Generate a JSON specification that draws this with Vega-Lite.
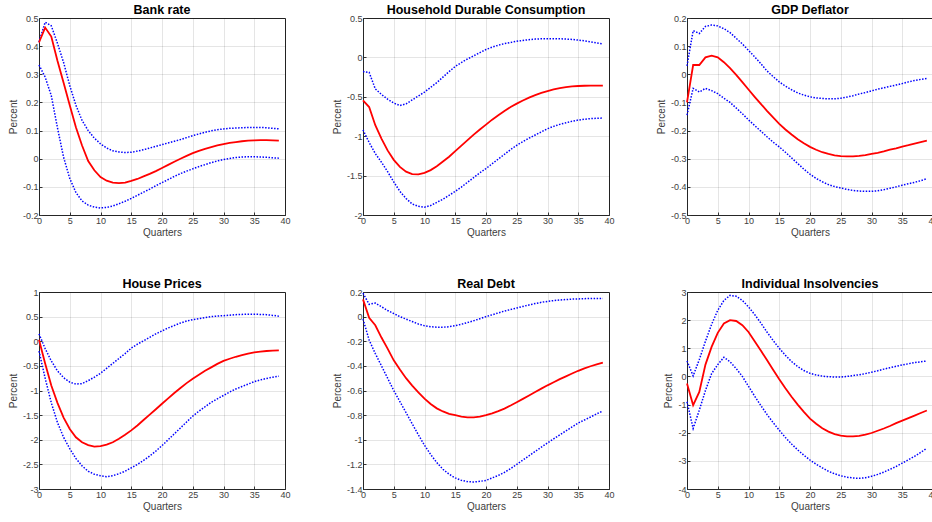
{
"$schema": "https://vega.github.io/schema/vega-lite/v6.json",
"padding": {"left": 7, "top": 3, "right": 0, "bottom": 0},
"columns": 3,
"spacing": {"row": 77, "column": 78},
"bounds": "flush",
"datasets": {
"bank": [
{"q":0,"lo":0.333,"med":0.413,"hi":0.415},{"q":1,"lo":0.29,"med":0.466,"hi":0.485},{"q":2,"lo":0.224,"med":0.434,"hi":0.472},{"q":3,"lo":0.11,"med":0.348,"hi":0.41},{"q":4,"lo":0.005,"med":0.27,"hi":0.342},{"q":5,"lo":-0.07,"med":0.19,"hi":0.26},{"q":6,"lo":-0.12,"med":0.112,"hi":0.19},{"q":7,"lo":-0.15,"med":0.047,"hi":0.136},{"q":8,"lo":-0.165,"med":-0.008,"hi":0.1},{"q":9,"lo":-0.172,"med":-0.041,"hi":0.073},
{"q":10,"lo":-0.175,"med":-0.065,"hi":0.053},{"q":11,"lo":-0.173,"med":-0.078,"hi":0.038},{"q":12,"lo":-0.168,"med":-0.085,"hi":0.028},{"q":13,"lo":-0.16,"med":-0.087,"hi":0.024},{"q":14,"lo":-0.151,"med":-0.085,"hi":0.022},{"q":15,"lo":-0.141,"med":-0.079,"hi":0.023},{"q":16,"lo":-0.13,"med":-0.072,"hi":0.027},{"q":17,"lo":-0.119,"med":-0.063,"hi":0.032},{"q":18,"lo":-0.108,"med":-0.054,"hi":0.038},{"q":19,"lo":-0.096,"med":-0.044,"hi":0.044},
{"q":20,"lo":-0.085,"med":-0.033,"hi":0.05},{"q":21,"lo":-0.074,"med":-0.022,"hi":0.056},{"q":22,"lo":-0.063,"med":-0.011,"hi":0.062},{"q":23,"lo":-0.053,"med":0.0,"hi":0.068},{"q":24,"lo":-0.044,"med":0.01,"hi":0.075},{"q":25,"lo":-0.036,"med":0.02,"hi":0.082},{"q":26,"lo":-0.028,"med":0.028,"hi":0.088},{"q":27,"lo":-0.021,"med":0.035,"hi":0.094},{"q":28,"lo":-0.014,"med":0.041,"hi":0.099},{"q":29,"lo":-0.008,"med":0.047,"hi":0.103},
{"q":30,"lo":-0.003,"med":0.052,"hi":0.106},{"q":31,"lo":0.001,"med":0.056,"hi":0.108},{"q":32,"lo":0.004,"med":0.059,"hi":0.109},{"q":33,"lo":0.006,"med":0.062,"hi":0.11},{"q":34,"lo":0.007,"med":0.064,"hi":0.111},{"q":35,"lo":0.007,"med":0.065,"hi":0.111},{"q":36,"lo":0.006,"med":0.066,"hi":0.111},{"q":37,"lo":0.005,"med":0.066,"hi":0.11},{"q":38,"lo":0.003,"med":0.065,"hi":0.108},{"q":39,"lo":0.002,"med":0.064,"hi":0.106}
],
"hdc": [
{"q":0,"lo":-0.92,"med":-0.545,"hi":-0.18},{"q":1,"lo":-1.08,"med":-0.63,"hi":-0.19},{"q":2,"lo":-1.22,"med":-0.86,"hi":-0.4},{"q":3,"lo":-1.33,"med":-1.03,"hi":-0.47},{"q":4,"lo":-1.45,"med":-1.18,"hi":-0.53},{"q":5,"lo":-1.58,"med":-1.3,"hi":-0.58},{"q":6,"lo":-1.7,"med":-1.39,"hi":-0.61},{"q":7,"lo":-1.79,"med":-1.45,"hi":-0.59},{"q":8,"lo":-1.86,"med":-1.48,"hi":-0.54},{"q":9,"lo":-1.89,"med":-1.485,"hi":-0.49},
{"q":10,"lo":-1.9,"med":-1.465,"hi":-0.44},{"q":11,"lo":-1.88,"med":-1.43,"hi":-0.38},{"q":12,"lo":-1.84,"med":-1.38,"hi":-0.32},{"q":13,"lo":-1.8,"med":-1.32,"hi":-0.25},{"q":14,"lo":-1.75,"med":-1.26,"hi":-0.18},{"q":15,"lo":-1.7,"med":-1.19,"hi":-0.115},{"q":16,"lo":-1.645,"med":-1.12,"hi":-0.065},{"q":17,"lo":-1.585,"med":-1.05,"hi":-0.02},{"q":18,"lo":-1.525,"med":-0.98,"hi":0.02},{"q":19,"lo":-1.465,"med":-0.915,"hi":0.06},
{"q":20,"lo":-1.41,"med":-0.853,"hi":0.1},{"q":21,"lo":-1.35,"med":-0.79,"hi":0.13},{"q":22,"lo":-1.29,"med":-0.735,"hi":0.155},{"q":23,"lo":-1.23,"med":-0.68,"hi":0.175},{"q":24,"lo":-1.17,"med":-0.63,"hi":0.19},{"q":25,"lo":-1.115,"med":-0.587,"hi":0.205},{"q":26,"lo":-1.07,"med":-0.547,"hi":0.215},{"q":27,"lo":-1.025,"med":-0.51,"hi":0.225},{"q":28,"lo":-0.985,"med":-0.478,"hi":0.232},{"q":29,"lo":-0.945,"med":-0.45,"hi":0.236},
{"q":30,"lo":-0.905,"med":-0.427,"hi":0.238},{"q":31,"lo":-0.875,"med":-0.407,"hi":0.238},{"q":32,"lo":-0.85,"med":-0.39,"hi":0.236},{"q":33,"lo":-0.83,"med":-0.378,"hi":0.233},{"q":34,"lo":-0.81,"med":-0.369,"hi":0.228},{"q":35,"lo":-0.795,"med":-0.363,"hi":0.22},{"q":36,"lo":-0.785,"med":-0.36,"hi":0.21},{"q":37,"lo":-0.777,"med":-0.358,"hi":0.198},{"q":38,"lo":-0.772,"med":-0.357,"hi":0.185},{"q":39,"lo":-0.77,"med":-0.357,"hi":0.171}
],
"gdp": [
{"q":0,"lo":-0.145,"med":-0.1,"hi":0.03},{"q":1,"lo":-0.05,"med":0.033,"hi":0.155},{"q":2,"lo":-0.063,"med":0.033,"hi":0.145},{"q":3,"lo":-0.05,"med":0.06,"hi":0.17},{"q":4,"lo":-0.058,"med":0.066,"hi":0.175},{"q":5,"lo":-0.069,"med":0.06,"hi":0.172},{"q":6,"lo":-0.085,"med":0.043,"hi":0.162},{"q":7,"lo":-0.1,"med":0.022,"hi":0.148},{"q":8,"lo":-0.12,"med":-0.002,"hi":0.128},{"q":9,"lo":-0.14,"med":-0.028,"hi":0.108},
{"q":10,"lo":-0.162,"med":-0.054,"hi":0.085},{"q":11,"lo":-0.182,"med":-0.08,"hi":0.062},{"q":12,"lo":-0.202,"med":-0.105,"hi":0.038},{"q":13,"lo":-0.222,"med":-0.13,"hi":0.012},{"q":14,"lo":-0.241,"med":-0.153,"hi":-0.008},{"q":15,"lo":-0.258,"med":-0.176,"hi":-0.027},{"q":16,"lo":-0.277,"med":-0.196,"hi":-0.042},{"q":17,"lo":-0.297,"med":-0.214,"hi":-0.055},{"q":18,"lo":-0.317,"med":-0.231,"hi":-0.066},{"q":19,"lo":-0.337,"med":-0.245,"hi":-0.074},
{"q":20,"lo":-0.355,"med":-0.258,"hi":-0.08},{"q":21,"lo":-0.37,"med":-0.268,"hi":-0.084},{"q":22,"lo":-0.382,"med":-0.277,"hi":-0.086},{"q":23,"lo":-0.392,"med":-0.283,"hi":-0.087},{"q":24,"lo":-0.399,"med":-0.288,"hi":-0.087},{"q":25,"lo":-0.404,"med":-0.291,"hi":-0.085},{"q":26,"lo":-0.409,"med":-0.292,"hi":-0.081},{"q":27,"lo":-0.413,"med":-0.292,"hi":-0.076},{"q":28,"lo":-0.415,"med":-0.29,"hi":-0.07},{"q":29,"lo":-0.416,"med":-0.287,"hi":-0.065},
{"q":30,"lo":-0.416,"med":-0.283,"hi":-0.059},{"q":31,"lo":-0.414,"med":-0.279,"hi":-0.053},{"q":32,"lo":-0.41,"med":-0.274,"hi":-0.048},{"q":33,"lo":-0.405,"med":-0.268,"hi":-0.043},{"q":34,"lo":-0.4,"med":-0.263,"hi":-0.038},{"q":35,"lo":-0.394,"med":-0.257,"hi":-0.033},{"q":36,"lo":-0.389,"med":-0.252,"hi":-0.027},{"q":37,"lo":-0.384,"med":-0.246,"hi":-0.022},{"q":38,"lo":-0.378,"med":-0.241,"hi":-0.018},{"q":39,"lo":-0.371,"med":-0.236,"hi":-0.015}
],
"house": [
{"q":0,"lo":-0.2,"med":0.03,"hi":0.15},{"q":1,"lo":-0.75,"med":-0.45,"hi":-0.15},{"q":2,"lo":-1.25,"med":-0.9,"hi":-0.4},{"q":3,"lo":-1.65,"med":-1.25,"hi":-0.6},{"q":4,"lo":-1.95,"med":-1.55,"hi":-0.74},{"q":5,"lo":-2.18,"med":-1.78,"hi":-0.83},{"q":6,"lo":-2.38,"med":-1.95,"hi":-0.87},{"q":7,"lo":-2.53,"med":-2.05,"hi":-0.86},{"q":8,"lo":-2.64,"med":-2.11,"hi":-0.8},{"q":9,"lo":-2.7,"med":-2.14,"hi":-0.73},
{"q":10,"lo":-2.73,"med":-2.13,"hi":-0.65},{"q":11,"lo":-2.75,"med":-2.1,"hi":-0.55},{"q":12,"lo":-2.73,"med":-2.05,"hi":-0.45},{"q":13,"lo":-2.69,"med":-1.98,"hi":-0.35},{"q":14,"lo":-2.64,"med":-1.9,"hi":-0.25},{"q":15,"lo":-2.57,"med":-1.81,"hi":-0.14},{"q":16,"lo":-2.5,"med":-1.71,"hi":-0.06},{"q":17,"lo":-2.42,"med":-1.6,"hi":0.01},{"q":18,"lo":-2.33,"med":-1.49,"hi":0.08},{"q":19,"lo":-2.23,"med":-1.38,"hi":0.15},
{"q":20,"lo":-2.12,"med":-1.27,"hi":0.21},{"q":21,"lo":-2.0,"med":-1.16,"hi":0.27},{"q":22,"lo":-1.88,"med":-1.05,"hi":0.32},{"q":23,"lo":-1.76,"med":-0.95,"hi":0.37},{"q":24,"lo":-1.64,"med":-0.85,"hi":0.41},{"q":25,"lo":-1.52,"med":-0.76,"hi":0.44},{"q":26,"lo":-1.42,"med":-0.68,"hi":0.46},{"q":27,"lo":-1.33,"med":-0.6,"hi":0.48},{"q":28,"lo":-1.24,"med":-0.53,"hi":0.5},{"q":29,"lo":-1.17,"med":-0.46,"hi":0.51},
{"q":30,"lo":-1.1,"med":-0.4,"hi":0.52},{"q":31,"lo":-1.03,"med":-0.355,"hi":0.53},{"q":32,"lo":-0.97,"med":-0.315,"hi":0.54},{"q":33,"lo":-0.92,"med":-0.28,"hi":0.545},{"q":34,"lo":-0.87,"med":-0.25,"hi":0.55},{"q":35,"lo":-0.82,"med":-0.225,"hi":0.55},{"q":36,"lo":-0.785,"med":-0.21,"hi":0.545},{"q":37,"lo":-0.755,"med":-0.198,"hi":0.54},{"q":38,"lo":-0.73,"med":-0.19,"hi":0.525},{"q":39,"lo":-0.71,"med":-0.185,"hi":0.51}
],
"debt": [
{"q":0,"lo":-0.02,"med":0.14,"hi":0.19},{"q":1,"lo":-0.19,"med":-0.01,"hi":0.1},{"q":2,"lo":-0.3,"med":-0.07,"hi":0.11},{"q":3,"lo":-0.4,"med":-0.17,"hi":0.08},{"q":4,"lo":-0.5,"med":-0.26,"hi":0.05},{"q":5,"lo":-0.6,"med":-0.355,"hi":0.025},{"q":6,"lo":-0.69,"med":-0.43,"hi":0.0},{"q":7,"lo":-0.78,"med":-0.5,"hi":-0.02},{"q":8,"lo":-0.87,"med":-0.56,"hi":-0.04},{"q":9,"lo":-0.96,"med":-0.615,"hi":-0.06},
{"q":10,"lo":-1.045,"med":-0.666,"hi":-0.074},{"q":11,"lo":-1.12,"med":-0.71,"hi":-0.082},{"q":12,"lo":-1.185,"med":-0.745,"hi":-0.086},{"q":13,"lo":-1.24,"med":-0.77,"hi":-0.086},{"q":14,"lo":-1.28,"med":-0.79,"hi":-0.082},{"q":15,"lo":-1.31,"med":-0.8,"hi":-0.074},{"q":16,"lo":-1.33,"med":-0.812,"hi":-0.062},{"q":17,"lo":-1.34,"med":-0.818,"hi":-0.048},{"q":18,"lo":-1.343,"med":-0.818,"hi":-0.033},{"q":19,"lo":-1.338,"med":-0.812,"hi":-0.017},
{"q":20,"lo":-1.33,"med":-0.8,"hi":0.0},{"q":21,"lo":-1.31,"med":-0.785,"hi":0.015},{"q":22,"lo":-1.29,"med":-0.767,"hi":0.03},{"q":23,"lo":-1.265,"med":-0.747,"hi":0.045},{"q":24,"lo":-1.235,"med":-0.722,"hi":0.058},{"q":25,"lo":-1.2,"med":-0.695,"hi":0.07},{"q":26,"lo":-1.165,"med":-0.668,"hi":0.083},{"q":27,"lo":-1.13,"med":-0.64,"hi":0.095},{"q":28,"lo":-1.095,"med":-0.612,"hi":0.106},{"q":29,"lo":-1.06,"med":-0.585,"hi":0.116},
{"q":30,"lo":-1.026,"med":-0.558,"hi":0.124},{"q":31,"lo":-0.993,"med":-0.533,"hi":0.13},{"q":32,"lo":-0.96,"med":-0.508,"hi":0.135},{"q":33,"lo":-0.928,"med":-0.485,"hi":0.139},{"q":34,"lo":-0.896,"med":-0.462,"hi":0.142},{"q":35,"lo":-0.864,"med":-0.44,"hi":0.144},{"q":36,"lo":-0.84,"med":-0.42,"hi":0.146},{"q":37,"lo":-0.815,"med":-0.403,"hi":0.147},{"q":38,"lo":-0.79,"med":-0.388,"hi":0.148},{"q":39,"lo":-0.766,"med":-0.374,"hi":0.148}
],
"ins": [
{"q":0,"lo":-0.9,"med":-0.25,"hi":0.55},{"q":1,"lo":-1.85,"med":-1.02,"hi":0.02},{"q":2,"lo":-1.2,"med":-0.55,"hi":0.6},{"q":3,"lo":-0.5,"med":0.42,"hi":1.25},{"q":4,"lo":0.1,"med":1.05,"hi":1.85},{"q":5,"lo":0.42,"med":1.55,"hi":2.35},{"q":6,"lo":0.68,"med":1.88,"hi":2.7},{"q":7,"lo":0.52,"med":2.0,"hi":2.88},{"q":8,"lo":0.28,"med":1.97,"hi":2.85},{"q":9,"lo":0.0,"med":1.82,"hi":2.7},
{"q":10,"lo":-0.35,"med":1.58,"hi":2.47},{"q":11,"lo":-0.7,"med":1.25,"hi":2.2},{"q":12,"lo":-1.03,"med":0.92,"hi":1.9},{"q":13,"lo":-1.35,"med":0.58,"hi":1.58},{"q":14,"lo":-1.64,"med":0.24,"hi":1.28},{"q":15,"lo":-1.91,"med":-0.1,"hi":1.0},{"q":16,"lo":-2.17,"med":-0.42,"hi":0.75},{"q":17,"lo":-2.4,"med":-0.72,"hi":0.53},{"q":18,"lo":-2.61,"med":-1.0,"hi":0.35},{"q":19,"lo":-2.8,"med":-1.26,"hi":0.21},
{"q":20,"lo":-2.97,"med":-1.5,"hi":0.11},{"q":21,"lo":-3.12,"med":-1.68,"hi":0.05},{"q":22,"lo":-3.25,"med":-1.84,"hi":0.01},{"q":23,"lo":-3.37,"med":-1.96,"hi":-0.01},{"q":24,"lo":-3.46,"med":-2.05,"hi":-0.02},{"q":25,"lo":-3.53,"med":-2.1,"hi":-0.02},{"q":26,"lo":-3.58,"med":-2.13,"hi":0.0},{"q":27,"lo":-3.61,"med":-2.13,"hi":0.03},{"q":28,"lo":-3.62,"med":-2.11,"hi":0.06},{"q":29,"lo":-3.6,"med":-2.07,"hi":0.1},
{"q":30,"lo":-3.55,"med":-2.01,"hi":0.15},{"q":31,"lo":-3.48,"med":-1.93,"hi":0.2},{"q":32,"lo":-3.4,"med":-1.85,"hi":0.26},{"q":33,"lo":-3.3,"med":-1.76,"hi":0.31},{"q":34,"lo":-3.2,"med":-1.66,"hi":0.36},{"q":35,"lo":-3.08,"med":-1.57,"hi":0.41},{"q":36,"lo":-2.96,"med":-1.48,"hi":0.45},{"q":37,"lo":-2.84,"med":-1.39,"hi":0.49},{"q":38,"lo":-2.7,"med":-1.3,"hi":0.52},{"q":39,"lo":-2.55,"med":-1.21,"hi":0.55}
]
},
"concat": [
{"title": "Bank rate", "width": 246, "height": 197, "data": {"name": "bank"},
 "encoding": {"x": {"field": "q", "type": "quantitative", "scale": {"domain": [0, 40], "nice": false}, "axis": {"values": [0,5,10,15,20,25,30,35,40], "title": "Quarters"}},
  "y": {"field": "v", "type": "quantitative", "scale": {"domain": [-0.2, 0.5], "nice": false, "zero": false}, "axis": {"values": [-0.2,-0.1,0,0.1,0.2,0.3,0.4,0.5], "title": "Percent"}}},
 "layer": [
  {"transform": [{"fold": ["hi", "lo"], "as": ["s", "v"]}], "mark": {"type": "line", "color": "#0000ff", "strokeDash": [1.5, 1.5], "strokeWidth": 1.5}, "encoding": {"detail": {"field": "s"}}},
  {"transform": [{"fold": ["med"], "as": ["s", "v"]}], "mark": {"type": "line", "color": "#ff0000", "strokeWidth": 1.8}},
  {"data": {"values": [{}]}, "mark": {"type": "rule", "color": "#000000", "strokeWidth": 1.2}, "encoding": {"x": {"datum": 0, "type": "quantitative"}, "x2": {"datum": 39}, "y": {"datum": 0, "type": "quantitative"}}},
  {"data": {"values": [{}]}, "mark": {"type": "rect", "filled": false, "color": "#262626", "strokeWidth": 1.1}, "encoding": {"x": {"datum": 0, "type": "quantitative"}, "x2": {"datum": 40}, "y": {"datum": -0.2, "type": "quantitative"}, "y2": {"datum": 0.5}}}
 ]},
{"title": "Household Durable Consumption", "width": 246, "height": 197, "data": {"name": "hdc"},
 "encoding": {"x": {"field": "q", "type": "quantitative", "scale": {"domain": [0, 40], "nice": false}, "axis": {"values": [0,5,10,15,20,25,30,35,40], "title": "Quarters"}},
  "y": {"field": "v", "type": "quantitative", "scale": {"domain": [-2, 0.5], "nice": false, "zero": false}, "axis": {"values": [-2,-1.5,-1,-0.5,0,0.5], "title": "Percent"}}},
 "layer": [
  {"transform": [{"fold": ["hi", "lo"], "as": ["s", "v"]}], "mark": {"type": "line", "color": "#0000ff", "strokeDash": [1.5, 1.5], "strokeWidth": 1.5}, "encoding": {"detail": {"field": "s"}}},
  {"transform": [{"fold": ["med"], "as": ["s", "v"]}], "mark": {"type": "line", "color": "#ff0000", "strokeWidth": 1.8}},
  {"data": {"values": [{}]}, "mark": {"type": "rule", "color": "#000000", "strokeWidth": 1}, "encoding": {"x": {"datum": 0, "type": "quantitative"}, "x2": {"datum": 39}, "y": {"datum": 0, "type": "quantitative"}}},
  {"data": {"values": [{}]}, "mark": {"type": "rect", "filled": false, "color": "#262626", "strokeWidth": 1.1}, "encoding": {"x": {"datum": 0, "type": "quantitative"}, "x2": {"datum": 40}, "y": {"datum": -2, "type": "quantitative"}, "y2": {"datum": 0.5}}}
 ]},
{"title": "GDP Deflator", "width": 246, "height": 197, "data": {"name": "gdp"},
 "encoding": {"x": {"field": "q", "type": "quantitative", "scale": {"domain": [0, 40], "nice": false}, "axis": {"values": [0,5,10,15,20,25,30,35,40], "title": "Quarters"}},
  "y": {"field": "v", "type": "quantitative", "scale": {"domain": [-0.5, 0.2], "nice": false, "zero": false}, "axis": {"values": [-0.5,-0.4,-0.3,-0.2,-0.1,0,0.1,0.2], "title": "Percent"}}},
 "layer": [
  {"transform": [{"fold": ["hi", "lo"], "as": ["s", "v"]}], "mark": {"type": "line", "color": "#0000ff", "strokeDash": [1.5, 1.5], "strokeWidth": 1.5}, "encoding": {"detail": {"field": "s"}}},
  {"transform": [{"fold": ["med"], "as": ["s", "v"]}], "mark": {"type": "line", "color": "#ff0000", "strokeWidth": 1.8}},
  {"data": {"values": [{}]}, "mark": {"type": "rule", "color": "#000000", "strokeWidth": 1}, "encoding": {"x": {"datum": 0, "type": "quantitative"}, "x2": {"datum": 39}, "y": {"datum": 0, "type": "quantitative"}}},
  {"data": {"values": [{}]}, "mark": {"type": "rect", "filled": false, "color": "#262626", "strokeWidth": 1.1}, "encoding": {"x": {"datum": 0, "type": "quantitative"}, "x2": {"datum": 40}, "y": {"datum": -0.5, "type": "quantitative"}, "y2": {"datum": 0.2}}}
 ]},
{"title": "House Prices", "width": 246, "height": 197, "data": {"name": "house"},
 "encoding": {"x": {"field": "q", "type": "quantitative", "scale": {"domain": [0, 40], "nice": false}, "axis": {"values": [0,5,10,15,20,25,30,35,40], "title": "Quarters"}},
  "y": {"field": "v", "type": "quantitative", "scale": {"domain": [-3, 1], "nice": false, "zero": false}, "axis": {"values": [-3,-2.5,-2,-1.5,-1,-0.5,0,0.5,1], "title": "Percent"}}},
 "layer": [
  {"transform": [{"fold": ["hi", "lo"], "as": ["s", "v"]}], "mark": {"type": "line", "color": "#0000ff", "strokeDash": [1.5, 1.5], "strokeWidth": 1.5}, "encoding": {"detail": {"field": "s"}}},
  {"transform": [{"fold": ["med"], "as": ["s", "v"]}], "mark": {"type": "line", "color": "#ff0000", "strokeWidth": 1.8}},
  {"data": {"values": [{}]}, "mark": {"type": "rule", "color": "#000000", "strokeWidth": 1}, "encoding": {"x": {"datum": 0, "type": "quantitative"}, "x2": {"datum": 39}, "y": {"datum": 0, "type": "quantitative"}}},
  {"data": {"values": [{}]}, "mark": {"type": "rect", "filled": false, "color": "#262626", "strokeWidth": 1.1}, "encoding": {"x": {"datum": 0, "type": "quantitative"}, "x2": {"datum": 40}, "y": {"datum": -3, "type": "quantitative"}, "y2": {"datum": 1}}}
 ]},
{"title": "Real Debt", "width": 246, "height": 197, "data": {"name": "debt"},
 "encoding": {"x": {"field": "q", "type": "quantitative", "scale": {"domain": [0, 40], "nice": false}, "axis": {"values": [0,5,10,15,20,25,30,35,40], "title": "Quarters"}},
  "y": {"field": "v", "type": "quantitative", "scale": {"domain": [-1.4, 0.2], "nice": false, "zero": false}, "axis": {"values": [-1.4,-1.2,-1,-0.8,-0.6,-0.4,-0.2,0,0.2], "title": "Percent"}}},
 "layer": [
  {"transform": [{"fold": ["hi", "lo"], "as": ["s", "v"]}], "mark": {"type": "line", "color": "#0000ff", "strokeDash": [1.5, 1.5], "strokeWidth": 1.5}, "encoding": {"detail": {"field": "s"}}},
  {"transform": [{"fold": ["med"], "as": ["s", "v"]}], "mark": {"type": "line", "color": "#ff0000", "strokeWidth": 1.8}},
  {"data": {"values": [{}]}, "mark": {"type": "rule", "color": "#000000", "strokeWidth": 2}, "encoding": {"x": {"datum": 0, "type": "quantitative"}, "x2": {"datum": 39}, "y": {"datum": 0, "type": "quantitative"}}},
  {"data": {"values": [{}]}, "mark": {"type": "rect", "filled": false, "color": "#262626", "strokeWidth": 1.1}, "encoding": {"x": {"datum": 0, "type": "quantitative"}, "x2": {"datum": 40}, "y": {"datum": -1.4, "type": "quantitative"}, "y2": {"datum": 0.2}}}
 ]},
{"title": "Individual Insolvencies", "width": 246, "height": 197, "data": {"name": "ins"},
 "encoding": {"x": {"field": "q", "type": "quantitative", "scale": {"domain": [0, 40], "nice": false}, "axis": {"values": [0,5,10,15,20,25,30,35,40], "title": "Quarters"}},
  "y": {"field": "v", "type": "quantitative", "scale": {"domain": [-4, 3], "nice": false, "zero": false}, "axis": {"values": [-4,-3,-2,-1,0,1,2,3], "title": "Percent"}}},
 "layer": [
  {"transform": [{"fold": ["hi", "lo"], "as": ["s", "v"]}], "mark": {"type": "line", "color": "#0000ff", "strokeDash": [1.5, 1.5], "strokeWidth": 1.5}, "encoding": {"detail": {"field": "s"}}},
  {"transform": [{"fold": ["med"], "as": ["s", "v"]}], "mark": {"type": "line", "color": "#ff0000", "strokeWidth": 1.8}},
  {"data": {"values": [{}]}, "mark": {"type": "rule", "color": "#000000", "strokeWidth": 1.8}, "encoding": {"x": {"datum": 0, "type": "quantitative"}, "x2": {"datum": 39}, "y": {"datum": 0, "type": "quantitative"}}},
  {"data": {"values": [{}]}, "mark": {"type": "rect", "filled": false, "color": "#262626", "strokeWidth": 1.1}, "encoding": {"x": {"datum": 0, "type": "quantitative"}, "x2": {"datum": 40}, "y": {"datum": -4, "type": "quantitative"}, "y2": {"datum": 3}}}
 ]}
],
"config": {
 "view": {"stroke": "#262626", "strokeWidth": 1},
 "axis": {"labelFont": "Liberation Sans", "labelFontSize": 9, "labelColor": "#404040", "labelFlush": false, "labelExpr": "'' + datum.value", "titleFont": "Liberation Sans", "titleFontSize": 10, "titleFontWeight": "normal", "titleColor": "#404040", "gridColor": "#000000", "gridOpacity": 0.1, "gridWidth": 1, "domain": true, "domainColor": "#262626", "domainWidth": 1, "tickColor": "#333333", "tickSize": -3, "labelPadding": 4},
 "axisX": {"titlePadding": 2},
 "axisY": {"titlePadding": 4},
 "title": {"font": "Liberation Sans", "fontSize": 12.5, "fontWeight": "bold", "color": "#000000", "offset": -2, "anchor": "middle", "frame": "group"}
}
}
